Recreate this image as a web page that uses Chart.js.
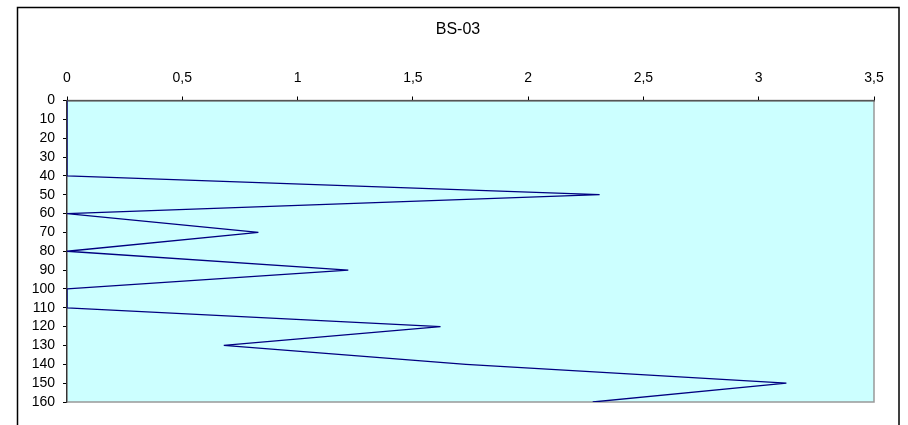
<!DOCTYPE html>
<html>
<head>
<meta charset="utf-8">
<script src="https://cdn.jsdelivr.net/npm/chart.js@4"></script>
<style>
  html, body { margin: 0; padding: 0; background: #fff; }
  #wrap { width: 908px; height: 425px; }
</style>
</head>
<body>
<div id="wrap"><canvas id="depthChart" width="908" height="425"></canvas></div>
<script>
// profundidade (eixo Y, invertido) e valores medidos
const depths = [0, 10, 20, 30, 40, 50, 60, 70, 80, 90, 100, 110, 120, 130, 140, 150, 160];
const values = [0, 0, 0, 0, 0, 2.31, 0, 0.83, 0, 1.22, 0, 0, 1.62, 0.68, 1.73, 3.12, 2.28];
const xTicks = [0, 0.5, 1, 1.5, 2, 2.5, 3, 3.5];
const title = 'BS-03';

const points = depths.map((d, i) => ({ x: values[i], y: d }));
const FONT = 'Liberation Sans, Arial, sans-serif';

// fundo, moldura externa, area do grafico e titulo
const frame = {
  id: 'frame',
  beforeDraw(chart) {
    const ctx = chart.ctx;
    const a = chart.chartArea;
    ctx.save();
    ctx.fillStyle = '#fff';
    ctx.fillRect(0, 0, chart.width, chart.height);
    ctx.strokeStyle = '#000';
    ctx.lineWidth = 1.5;
    ctx.strokeRect(17.5, 7.5, 881.5, 440);
    ctx.fillStyle = '#ccffff';
    ctx.fillRect(a.left, a.top, a.right - a.left, a.bottom - a.top);
    ctx.strokeStyle = '#999';
    ctx.lineWidth = 1.5;
    ctx.strokeRect(a.left, a.top, a.right - a.left, a.bottom - a.top);
    // titulo centrado na moldura
    ctx.fillStyle = '#000';
    ctx.font = '16px ' + FONT;
    ctx.textAlign = 'center';
    ctx.textBaseline = 'middle';
    ctx.fillText(title, 458, 30);
    ctx.restore();
  }
};

new Chart(document.getElementById('depthChart'), {
  type: 'scatter',
  data: {
    datasets: [{
      data: points,
      showLine: true,
      borderColor: '#000080',
      borderWidth: 1.3,
      pointRadius: 0,
      tension: 0
    }]
  },
  options: {
    responsive: false,
    animation: false,
    layout: { padding: { left: 0, right: 34, top: 40, bottom: 23 } },
    plugins: {
      legend: { display: false },
      tooltip: { enabled: false },
      title: { display: false }
    },
    scales: {
      x: {
        type: 'linear',
        position: 'top',
        min: 0,
        max: 3.5,
        afterFit: s => { s.height = 60.5; },
        afterBuildTicks: s => { s.ticks = xTicks.map(v => ({ value: v })); },
        ticks: {
          color: '#000',
          padding: 10,
          maxRotation: 0,
          autoSkip: false,
          font: { family: FONT, size: 14 },
          callback: v => String(v).replace('.', ',')
        },
        grid: { drawOnChartArea: false, tickLength: 4, color: '#000' },
        border: { color: '#555', width: 1.5 }
      },
      y: {
        type: 'linear',
        reverse: true,
        min: 0,
        max: 160,
        afterFit: s => { s.width = 67; },
        ticks: {
          stepSize: 10,
          color: '#000',
          padding: 8,
          autoSkip: false,
          font: { family: FONT, size: 14 }
        },
        grid: { drawOnChartArea: false, tickLength: 4, color: '#000' },
        border: { color: '#333', width: 1.2 }
      }
    }
  },
  plugins: [frame]
});
</script>
</body>
</html>
